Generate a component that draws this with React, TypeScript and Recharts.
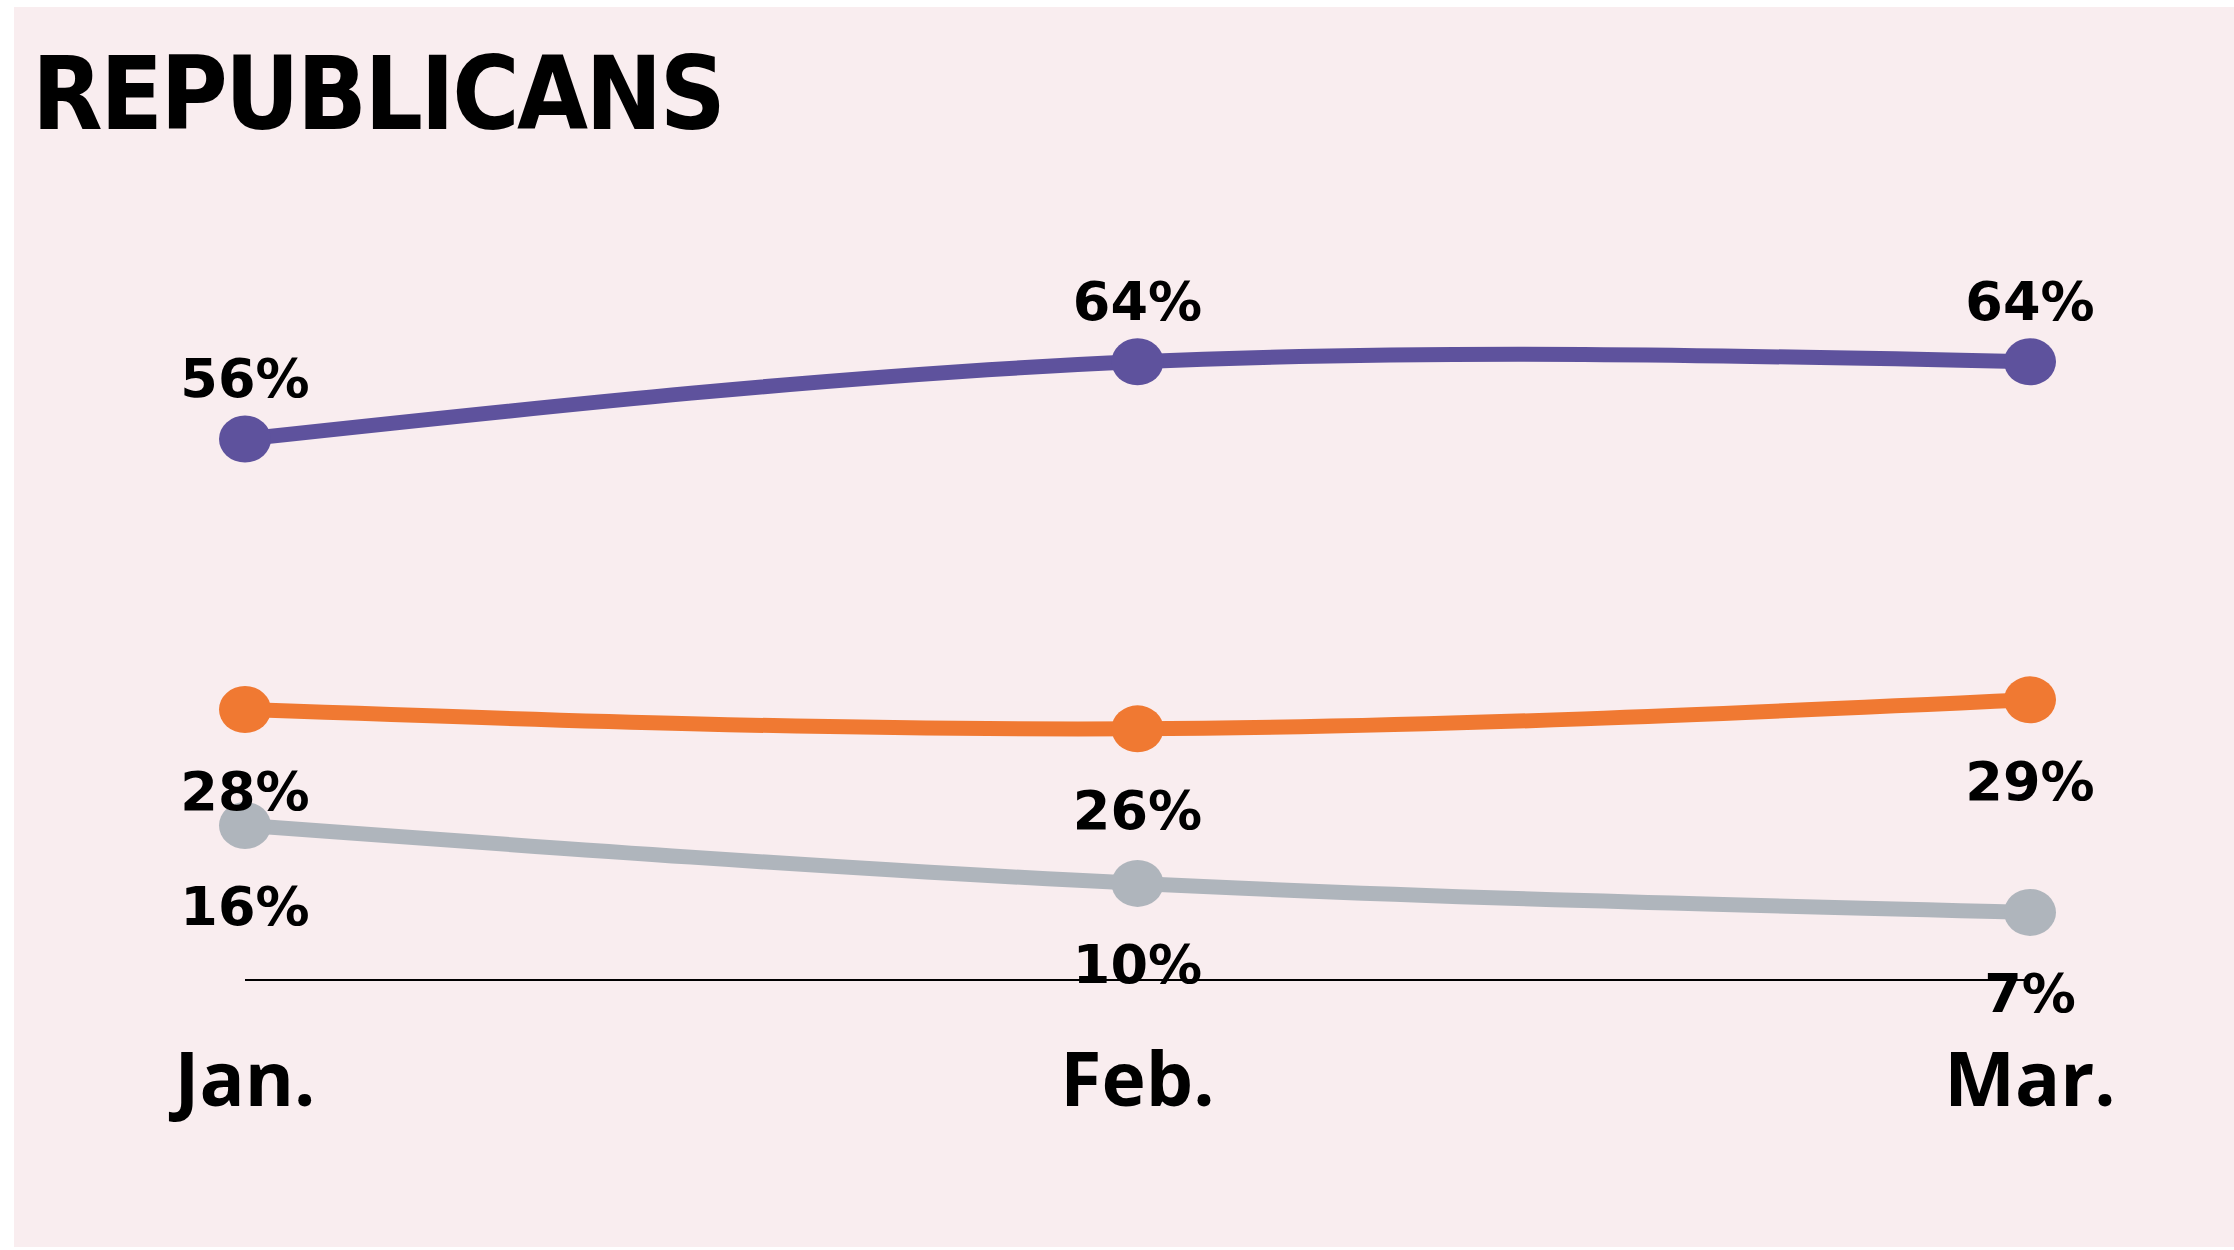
import React from "react";
import { LineChart, Line, XAxis, YAxis, LabelList } from "recharts";

const months = ["Jan.", "Feb.", "Mar."];
const approve = [56, 64, 64];
const disapprove = [28, 26, 29];
const unsure = [16, 10, 7];

const data = months.map((m, i) => ({
  month: m,
  approve: approve[i],
  disapprove: disapprove[i],
  unsure: unsure[i],
}));

const PURPLE = "#5E529D";
const ORANGE = "#F07932";
const GREY = "#AFB5BC";
const BG = "#F9EDEF";

const labelFont = "'DejaVu Sans', Verdana, sans-serif";

function dotFor(color: string) {
  return (props: any) => {
    const { cx, cy, index } = props;
    return <ellipse key={index} cx={cx} cy={cy} rx={26} ry={23.5} fill={color} />;
  };
}

function labelFor(dy: number) {
  return (props: any) => {
    const { x, y, value, index } = props;
    return (
      <text key={index} x={x} y={y + dy} textAnchor="middle" fontFamily={labelFont} fontWeight={700} fontSize={54} fill="#000">
        {value}%
      </text>
    );
  };
}

// tick y arrives already 8px below the axis line (tickSize + tickMargin)
function MonthTick(props: any) {
  const { x, y, payload } = props;
  return (
    <text x={x} y={y + 118} textAnchor="middle" fontFamily="'Open Sans', sans-serif" fontWeight={700} fontSize={75} fill="#000">
      {payload.value}
    </text>
  );
}

export default function App() {
  return (
    <div style={{ position: "absolute", left: 0, top: 0, width: 2234, height: 1250, background: "#fff" }}>
      <div style={{ position: "absolute", left: 14, top: 7, width: 2220, height: 1240, background: BG }} />
      <div
        style={{
          position: "absolute",
          left: 32,
          top: 34,
          fontFamily: "'Liberation Sans Narrow', 'DejaVu Sans Condensed', 'Roboto Condensed', sans-serif",
          fontStretch: "condensed",
          fontWeight: 700,
          fontSize: 102,
          letterSpacing: -2.5,
          lineHeight: "120px",
          color: "#000",
        }}
      >
        REPUBLICANS
      </div>
      <div style={{ position: "absolute", left: 0, top: 0 }}>
        <LineChart width={2234} height={1250} data={data} margin={{ top: 14, right: 204, bottom: 240, left: 245 }}>
          <XAxis
            dataKey="month"
            height={30}
            axisLine={{ stroke: "#000", strokeWidth: 2 }}
            tickLine={false}
            tick={<MonthTick />}
            interval={0}
          />
          <YAxis hide domain={[0, 100]} />
          <Line type="natural" dataKey="unsure" stroke={GREY} strokeWidth={15} dot={dotFor(GREY)} activeDot={false} isAnimationActive={false}>
            <LabelList dataKey="unsure" content={labelFor(100)} />
          </Line>
          <Line type="natural" dataKey="disapprove" stroke={ORANGE} strokeWidth={15} dot={dotFor(ORANGE)} activeDot={false} isAnimationActive={false}>
            <LabelList dataKey="disapprove" content={labelFor(100)} />
          </Line>
          <Line type="natural" dataKey="approve" stroke={PURPLE} strokeWidth={15} dot={dotFor(PURPLE)} activeDot={false} isAnimationActive={false}>
            <LabelList dataKey="approve" content={labelFor(-42)} />
          </Line>
        </LineChart>
      </div>
    </div>
  );
}
